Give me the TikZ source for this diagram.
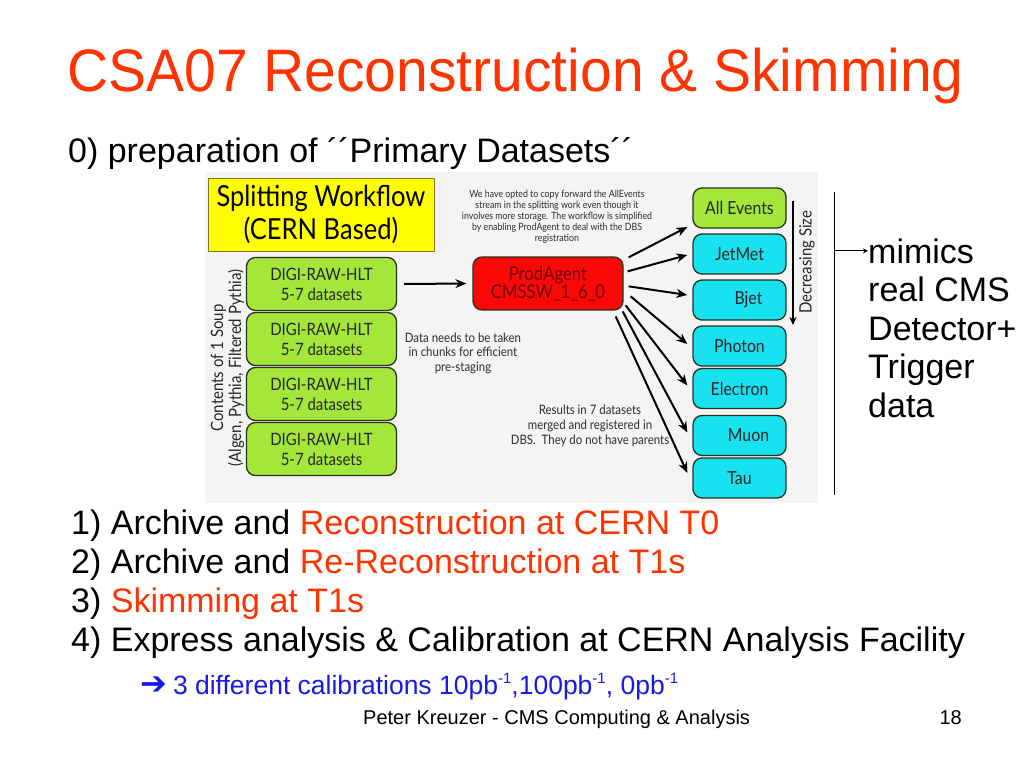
\documentclass[tikz,border=0pt]{standalone}
\usepackage{fontspec}
\setmainfont{Liberation Sans}
\newfontfamily\titlefont[FakeStretch=0.95]{Liberation Sans}
\newfontfamily\gill[FakeStretch=0.88]{Lato}
\newfontfamily\symfont{DejaVu Sans}
\newcommand\invpb{pb\raisebox{0.75ex}{\fontsize{15}{15}\selectfont -1}}
\usetikzlibrary{arrows.meta,positioning}

\definecolor{slidered}{RGB}{255,51,0}
\definecolor{slideblue}{RGB}{25,25,230}
\definecolor{panelgray}{RGB}{244,244,244}
\definecolor{limegreen}{RGB}{164,230,58}
\definecolor{cyanbox}{RGB}{24,226,240}
\definecolor{agentred}{RGB}{250,8,8}
\definecolor{agenttext}{RGB}{110,0,0}
\definecolor{boxedge}{RGB}{40,50,30}
\definecolor{notetext}{RGB}{45,45,45}
\definecolor{bannerfill}{RGB}{255,255,0}
\definecolor{banneredge}{RGB}{130,120,40}

\tikzset{
  databox/.style={draw=boxedge, line width=1.3pt, rounded corners=9pt,
    fill=limegreen, minimum width=150pt, minimum height=53pt, align=center,
    inner sep=0pt, text=black!85, font=\gill\fontsize{17}{20}\selectfont},
  streambox/.style={databox, minimum width=93pt, minimum height=40pt,
    font=\gill\fontsize{18}{20}\selectfont},
  flow/.style={line width=2pt, -{Stealth[length=11pt,width=9pt]}},
  note/.style={align=center, inner sep=0pt, text=notetext},
  bodyline/.style={anchor=base west, inner sep=0pt, font=\fontsize{34}{40}\selectfont},
}

\begin{document}
\begin{tikzpicture}[x=1pt,y=-1pt]
\useasboundingbox (0,0) rectangle (1024,768);
\fill[white] (0,0) rectangle (1024,768);
%title
\node[anchor=base west, inner sep=0pt, text=slidered,
  font=\titlefont\fontsize{60}{72}\selectfont] (title) at (67,91)
  {CSA07 Reconstruction \& Skimming};
\node[bodyline] (step0) at (68,162) {0) preparation of ´´Primary Datasets´´};

%workflow panel
\fill[panelgray] (205,172) rectangle (818,503);
\node[draw=banneredge, line width=0.8pt, fill=bannerfill, minimum width=226pt,
  minimum height=73pt, align=center, inner sep=0pt,
  font=\gill\fontsize{29}{33}\selectfont] (banner) at (321,214.5)
  {Splitting Workflow\\(CERN Based)};
\foreach \i in {1,...,4}
  \node[databox] (digi\i) at (321.5,229+55*\i) {DIGI-RAW-HLT\\5-7 datasets};
\node[note, rotate=90, text=black!85, font=\gill\fontsize{17}{18}\selectfont]
  (soup) at (227.5,368) {Contents of 1 Soup\\(Algen, Pythia, Filtered Pythia)};
\node[databox, fill=agentred, text=agenttext,
  font=\gill\fontsize{19}{18}\selectfont] (prod) at (548,283.5)
  {ProdAgent\\CMSSW\_1\_6\_0};
\draw[flow] ([xshift=7pt]digi1.east) -- ([xshift=-6pt]prod.west);

%notes
\node[note, font=\gill\fontsize{10}{11}\selectfont] (optnote) at (557,217)
  {We have opted to copy forward the AllEvents\\stream in the splitting work even though it\\
   involves more storage. The workflow is simplified\\by enabling ProdAgent to deal with the DBS\\registration};
\node[note, font=\gill\fontsize{13}{14.5}\selectfont] (chunknote) at (463,353)
  {Data needs to be taken\\in chunks for efficient\\pre-staging};
\node[note, font=\gill\fontsize{13}{15}\selectfont] (resnote) at (590,426)
  {Results in 7 datasets\\merged and registered in\\DBS.\ \ They do not have parents};

%streams
\foreach \name/\lab/\yy/\col in {allev/All Events/208/limegreen, jetmet/JetMet/254/cyanbox,
    bjet/\hspace*{18pt}Bjet/300/cyanbox, photon/Photon/346/cyanbox,
    electron/Electron/388.5/cyanbox, muon/\hspace*{18pt}Muon/435.5/cyanbox, tau/Tau/478/cyanbox}
  \node[streambox, fill=\col] (\name) at (739.5,\yy) {\lab};
\foreach \sx/\sy/\t/\ey in {5/1/allev/19, 4/15/jetmet/1, 5/30/bjet/-5, 7/40/photon/-2,
    2/49/electron/-3, -1/55/muon/-3, -8/60/tau/-5}
  \draw[flow] ([shift={(\sx,\sy)}]prod.north east) -- ([shift={(-5,\ey)}]\t.west);

\coordinate (sizetop) at (793,201);
\coordinate (sizebot) at (793,325);
\draw[line width=1.5pt, -{Stealth[length=8pt,width=7pt]}] (sizetop) -- (sizebot);
\node[note, rotate=90, text=black!85, font=\gill\fontsize{17}{18}\selectfont]
  (sizelab) at (807,262) {Decreasing Size};

%mimics
\coordinate (vtop) at (834,192);
\coordinate (vbot) at (834,495);
\draw[line width=1pt] (vtop) -- (vbot);
\foreach \txt [count=\i] in {mimics, real CMS, Detector+, Trigger, data}
  \node[bodyline] (mim\i) at (868,224.5+38.5*\i) {\txt};
\draw[line width=1pt, -{Stealth[length=5pt,width=5pt]}] (vtop |- mim1.west) -- (mim1.west);

%steps
\node[bodyline] (step1) at (71,534) {1) Archive and \textcolor{slidered}{Reconstruction at CERN T0}};
\node[bodyline] (step2) at (71,573) {2) Archive and \textcolor{slidered}{Re-Reconstruction at T1s}};
\node[bodyline] (step3) at (71,612) {3) \textcolor{slidered}{Skimming at T1s}};
\node[bodyline] (step4) at (71,651) {4) Express analysis \& Calibration at CERN Analysis Facility};
\node[anchor=base west, inner sep=0pt, text=slideblue, font=\fontsize{26.5}{30}\selectfont]
  (calib) at (140,694) {{\symfont\fontsize{32}{30}\selectfont ➔}\hspace{6pt}3 different calibrations
  10\invpb,100\invpb, 0\invpb};

%footer
\node[anchor=base west, inner sep=0pt, font=\fontsize{20}{24}\selectfont] (footer) at (363,724)
  {Peter Kreuzer - CMS Computing \& Analysis};
\node[anchor=base east, inner sep=0pt, font=\fontsize{20}{24}\selectfont] (pageno) at (962,724) {18};
\end{tikzpicture}
\end{document}
